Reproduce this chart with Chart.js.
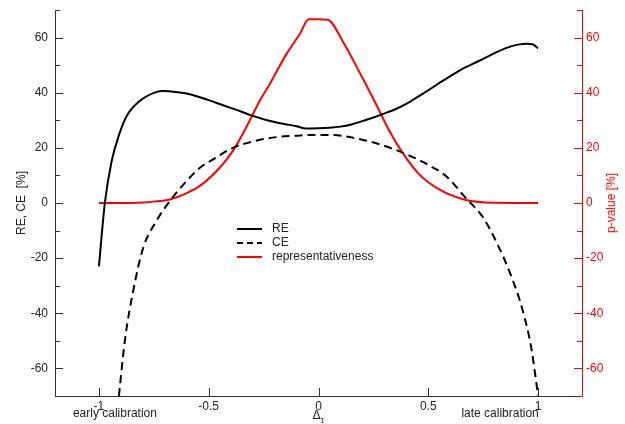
<!DOCTYPE html>
<html><head><meta charset="utf-8">
<script src="https://cdn.jsdelivr.net/npm/chart.js@4.4.1/dist/chart.umd.min.js"></script>
<style>html,body{margin:0;padding:0;background:#fff;}#wrap{width:625px;height:424px;}</style>
</head><body><div id="wrap"><canvas id="c" width="625" height="424"></canvas></div>
<script>
// ---- data ----
const reX = [-1, -0.973, -0.942, -0.905, -0.874, -0.814, -0.74, -0.71, -0.65, -0.6, -0.55, -0.5, -0.45, -0.4, -0.35, -0.3, -0.25, -0.2, -0.15, -0.1, -0.056, 0, 0.05, 0.1, 0.15, 0.2, 0.25, 0.29, 0.35, 0.41, 0.45, 0.5, 0.58, 0.65, 0.73, 0.8, 0.88, 0.944, 0.975, 1.0];
const reY = [-23, 0, 15.2, 25.5, 31.5, 37, 40.2, 40.6, 40.3, 39.7, 38.6, 37.3, 35.9, 34.5, 33.1, 31.6, 30.4, 29.4, 28.6, 27.8, 27, 27.1, 27.3, 27.7, 28.5, 29.7, 31, 32.2, 34, 36.4, 38.4, 40.9, 45.0, 48.4, 51.5, 54.3, 56.9, 57.8, 57.6, 56.1];
const ceX = [-0.909, -0.882, -0.844, -0.798, -0.738, -0.677, -0.6, -0.54, -0.48, -0.39, -0.3, -0.19, -0.1, -0.03, 0.06, 0.15, 0.277, 0.4, 0.5, 0.58, 0.67, 0.75, 0.82, 0.88, 0.93, 0.97, 1.0];
const ceY = [-70, -50, -31.9, -16.2, -6.5, 0.7, 8, 12.8, 15.8, 20, 22.3, 23.9, 24.4, 24.7, 24.7, 23.8, 21.3, 17.7, 13.8, 9.8, 1.9, -5.3, -15.8, -27, -39, -53, -70];
const repX = [-1, -0.9, -0.8, -0.75, -0.677, -0.6, -0.54, -0.45, -0.39, -0.33, -0.268, -0.223, -0.147, -0.086, -0.044, 0, 0.042, 0.11, 0.2, 0.262, 0.323, 0.383, 0.459, 0.55, 0.67, 0.81, 1.0];
const repY = [0, 0, 0.2, 0.5, 1.3, 3.6, 6.2, 12.8, 18.9, 27.3, 37, 43, 53.9, 61.2, 66.6, 66.6, 66.5, 58.7, 45.4, 35.8, 26.1, 18.2, 10.4, 4.9, 1.1, 0.1, 0];
const xTicks = [-1, -0.5, 0, 0.5, 1];
const yTicks = [-60, -40, -20, 0, 20, 40, 60];
const seriesNames = ['RE', 'CE', 'representativeness'];
const leftTitle = 'RE, CE  [%]';
const rightTitle = 'p-value [%]';
const xNotes = ['early calibration', 'late calibration'];

const pts = (xs, ys) => xs.map((x, i) => ({x: x, y: ys[i]}));
const FONT = '"Liberation Sans", Arial, sans-serif';

const extras = {
  id: 'extras',
  afterDraw(chart) {
    const ctx = chart.ctx, ca = chart.chartArea;
    const xs = chart.scales.x, yl = chart.scales.y, yr = chart.scales.y2;
    ctx.save();
    ctx.lineWidth = 1;
    ctx.strokeStyle = '#333';
    for (let v = -70; v <= 70; v += 10) {
      const p = Math.round(yl.getPixelForValue(v)) + 0.5;
      const L = (v % 20 === 0) ? 8 : 5;
      ctx.beginPath(); ctx.moveTo(ca.left, p); ctx.lineTo(ca.left + L, p); ctx.stroke();
    }
    xTicks.forEach(v => {
      const p = Math.round(xs.getPixelForValue(v)) + 0.5;
      ctx.beginPath(); ctx.moveTo(p, ca.bottom); ctx.lineTo(p, ca.bottom - 8); ctx.stroke();
    });
    ctx.strokeStyle = '#ff0000';
    for (let v = -70; v <= 70; v += 10) {
      const p = Math.round(yr.getPixelForValue(v)) + 0.5;
      const L = (v % 20 === 0) ? 8 : 5;
      ctx.beginPath(); ctx.moveTo(ca.right, p); ctx.lineTo(ca.right - L, p); ctx.stroke();
    }
    ctx.font = '12px ' + FONT;
    ctx.textAlign = 'center'; ctx.textBaseline = 'middle';
    ctx.fillStyle = '#222';
    ctx.save(); ctx.translate(22, yl.getPixelForValue(0)); ctx.rotate(-Math.PI / 2); ctx.fillText(leftTitle, 0, 0); ctx.restore();
    ctx.fillStyle = '#ff0000';
    ctx.save(); ctx.translate(612, yr.getPixelForValue(0)); ctx.rotate(-Math.PI / 2); ctx.fillText(rightTitle, 0, 0); ctx.restore();
    ctx.fillStyle = '#222';
    ctx.fillText(xNotes[0], xs.getPixelForValue(-1) + 16, 414);
    ctx.fillText(xNotes[1], xs.getPixelForValue(1) - 38, 414);
    const cx = xs.getPixelForValue(0);
    ctx.textAlign = 'right';
    ctx.fillText('\u0394', cx + 2, 416);
    ctx.font = '9px ' + FONT; ctx.textAlign = 'left';
    ctx.fillText('\u03C4', cx + 2, 421);
    const items = [
      {c: '#000', d: []},
      {c: '#000', d: [6, 4]},
      {c: '#ff0000', d: []}
    ];
    const lx0 = 237, lx1 = 262, ys = [229, 243, 257];
    ctx.font = '12px ' + FONT; ctx.textAlign = 'left';
    items.forEach((it, i) => {
      ctx.strokeStyle = it.c; ctx.lineWidth = 2; ctx.setLineDash(it.d);
      ctx.beginPath(); ctx.moveTo(lx0, ys[i]); ctx.lineTo(lx1, ys[i]); ctx.stroke();
      ctx.setLineDash([]);
      ctx.fillStyle = '#222';
      ctx.fillText(seriesNames[i], 272, ys[i]);
    });
    ctx.restore();
  }
};

const fitY = w => s => { s.width = w; s.paddingTop = 0; s.paddingBottom = 0; };

new Chart(document.getElementById('c'), {
  type: 'line',
  data: {
    datasets: [
      {label: seriesNames[0], data: pts(reX, reY), borderColor: '#000', borderWidth: 2, pointRadius: 0, cubicInterpolationMode: 'monotone', yAxisID: 'y', fill: false},
      {label: seriesNames[1], data: pts(ceX, ceY), borderColor: '#000', borderWidth: 2, borderDash: [8, 5], pointRadius: 0, cubicInterpolationMode: 'monotone', yAxisID: 'y', fill: false},
      {label: seriesNames[2], data: pts(repX, repY), borderColor: '#ff0000', borderWidth: 2, pointRadius: 0, cubicInterpolationMode: 'monotone', yAxisID: 'y2', fill: false}
    ]
  },
  options: {
    responsive: false, animation: false, devicePixelRatio: 1,
    layout: {padding: {top: 10, left: 0, right: 0, bottom: 0}},
    plugins: {legend: {display: false}, tooltip: {enabled: false}},
    scales: {
      x: {
        type: 'linear', min: -1.2, max: 1.2,
        afterBuildTicks: s => { s.ticks = xTicks.map(v => ({value: v})); },
        afterFit: s => { s.height = 28; s.paddingLeft = 0; s.paddingRight = 0; },
        grid: {display: false, drawTicks: false},
        border: {display: true, color: '#333', width: 1},
        ticks: {padding: 3, color: '#222', font: {family: FONT, size: 12}, maxRotation: 0, autoSkip: false, callback: v => String(v)}
      },
      y: {
        type: 'linear', position: 'left', min: -70, max: 70,
        afterBuildTicks: s => { s.ticks = yTicks.map(v => ({value: v})); },
        afterFit: fitY(55),
        grid: {display: false, drawTicks: false},
        border: {display: true, color: '#333', width: 1},
        ticks: {padding: 7, color: '#222', font: {family: FONT, size: 12}, callback: v => String(v)}
      },
      y2: {
        type: 'linear', position: 'right', min: -70, max: 70,
        afterBuildTicks: s => { s.ticks = yTicks.map(v => ({value: v})); },
        afterFit: fitY(43),
        grid: {display: false, drawTicks: false},
        border: {display: true, color: '#ff0000', width: 1},
        ticks: {padding: 4, color: '#ff0000', font: {family: FONT, size: 12}, callback: v => String(v)}
      }
    }
  },
  plugins: [extras]
});
</script></body></html>
